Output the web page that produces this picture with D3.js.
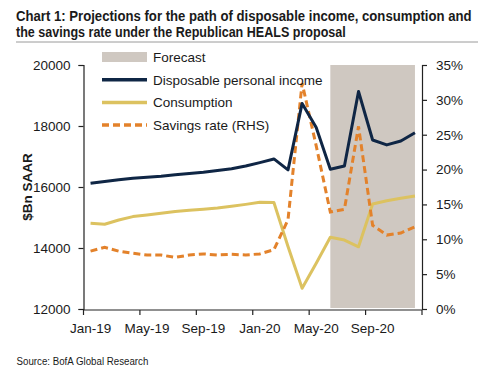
<!DOCTYPE html>
<html>
<head>
<meta charset="utf-8">
<script src="https://cdn.jsdelivr.net/npm/d3@7"></script>
<style>
  body{ margin:0; background:#fff; }
  svg text{ font-family:"Liberation Sans", Arial, sans-serif; fill:#1a1a1a; }
</style>
</head>
<body>
<svg id="chart" width="500" height="375"></svg>
<script>
// categories (monthly, Jan-19 .. Dec-20)
const months = ["Jan-19","Feb-19","Mar-19","Apr-19","May-19","Jun-19","Jul-19","Aug-19","Sep-19","Oct-19","Nov-19","Dec-19",
                "Jan-20","Feb-20","Mar-20","Apr-20","May-20","Jun-20","Jul-20","Aug-20","Sep-20","Oct-20","Nov-20","Dec-20"];
const tickMonths = ["Jan-19","May-19","Sep-19","Jan-20","May-20","Sep-20"];
// $Bn SAAR
const disposableIncome = [16120,16180,16240,16290,16320,16350,16400,16440,16480,16540,16600,16690,
                          16800,16920,16560,18740,17950,16580,16690,19130,17540,17380,17510,17780];
const consumption = [14810,14780,14920,15030,15080,15140,15200,15240,15270,15310,15370,15430,
                     15500,15490,14050,12680,13500,14350,14260,14040,15440,15550,15630,15705];
// % (RHS)
const savingsRate = [8.3,8.85,8.3,8.0,7.75,7.75,7.4,7.75,7.9,7.75,7.85,7.75,
                     7.9,8.5,12.8,32.4,23.4,13.9,14.3,26.2,12.0,10.6,10.9,11.8];
const forecastMonths = ["Jun-20","Jul-20","Aug-20","Sep-20","Oct-20","Nov-20","Dec-20"];
const leftTicks = [12000,14000,16000,18000,20000];
const rightTicks = [0,5,10,15,20,25,30,35];

const svg = d3.select("#chart");
const m = { left:83.5, right:422, top:65, bottom:309 };
const navy = "#0f2645", gold = "#dcc260", orange = "#e3822b", grey = "#cfc8c1";

const x = d3.scaleBand().domain(months).range([m.left, m.right]).paddingInner(0).paddingOuter(0);
const cx = d => x(d) + x.bandwidth()/2;
const yL = d3.scaleLinear().domain([12000,20000]).range([m.bottom, m.top]);
const yR = d3.scaleLinear().domain([0,35]).range([m.bottom, m.top]);

// squeeze a text horizontally to a target width (condensed look)
function fitText(sel, x0, width){
  const w = sel.node().getComputedTextLength();
  const s = Math.min(1, width / w);
  sel.attr("x", 0).attr("transform", `translate(${x0},0) scale(${s},1)`);
}

// title
const t1 = svg.append("text").attr("y",21).attr("font-size",15.5).attr("font-weight","bold")
  .text("Chart 1: Projections for the path of disposable income, consumption and");
fitText(t1, 16, 456);
const t2 = svg.append("text").attr("y",37.5).attr("font-size",15.5).attr("font-weight","bold")
  .text("the savings rate under the Republican HEALS proposal");
fitText(t2, 16, 330);
svg.append("line").attr("x1",16).attr("x2",478).attr("y1",42).attr("y2",42)
  .attr("stroke","#9a9a9a").attr("stroke-width",1);

// forecast shading
svg.append("rect")
  .attr("x", cx(forecastMonths[0]))
  .attr("width", cx(forecastMonths[forecastMonths.length-1]) - cx(forecastMonths[0]))
  .attr("y", yR(35)).attr("height", yR(0) - yR(35) - 1)
  .attr("fill", grey);

// lines
const lineL = d3.line().x((d,i)=> cx(months[i])).y(d=> yL(d));
const lineR = d3.line().x((d,i)=> cx(months[i])).y(d=> yR(d));
svg.append("path").datum(consumption).attr("d",lineL).attr("fill","none")
  .attr("stroke",gold).attr("stroke-width",3).attr("stroke-linejoin","round");
svg.append("path").datum(savingsRate).attr("d",lineR).attr("fill","none")
  .attr("stroke",orange).attr("stroke-width",3).attr("stroke-dasharray","7,4");
svg.append("path").datum(disposableIncome).attr("d",lineL).attr("fill","none")
  .attr("stroke",navy).attr("stroke-width",3).attr("stroke-linejoin","round");

// axes
const fontSize = 13.5;
const axL = svg.append("g").attr("transform",`translate(${m.left},0)`)
  .call(d3.axisLeft(yL).tickValues(leftTicks).tickFormat(d3.format("d")).tickSize(5).tickPadding(8));
const axR = svg.append("g").attr("transform",`translate(${m.right},0)`)
  .call(d3.axisRight(yR).tickValues(rightTicks).tickFormat(d=> d+"%").tickSize(5).tickPadding(9));
[axL, axR].forEach(a=>{
  a.selectAll("path,line").attr("stroke","#222").attr("stroke-width",1.2);
  a.selectAll("text").attr("font-size",fontSize).attr("font-family",null).attr("fill","#1a1a1a");
});

// x axis: ticks at category boundaries, labels at category centres
const axB = svg.append("g");
axB.append("line").attr("x1",m.left).attr("x2",m.right).attr("y1",m.bottom+1).attr("y2",m.bottom+1)
  .attr("stroke","#222").attr("stroke-width",1.2);
axB.selectAll("line.tick").data(tickMonths).enter().append("line").attr("class","tick")
  .attr("x1",d=> x(d)).attr("x2",d=> x(d)).attr("y1",m.bottom+1).attr("y2",m.bottom+6)
  .attr("stroke","#222").attr("stroke-width",1.2);
axB.append("line").attr("x1",m.right).attr("x2",m.right).attr("y1",m.bottom+1).attr("y2",m.bottom+6)
  .attr("stroke","#222").attr("stroke-width",1.2);
axB.selectAll("text").data(tickMonths).enter().append("text")
  .attr("x",d=> cx(d)).attr("y",333).attr("text-anchor","middle").attr("font-size",fontSize)
  .text(d=> d);

// y title
svg.append("text").attr("transform","translate(32,187) rotate(-90)")
  .attr("text-anchor","middle").attr("font-size",13.5).attr("font-weight","bold").text("$Bn SAAR");

// legend
const legend = [
  { label:"Forecast", type:"rect", color:grey },
  { label:"Disposable personal income", type:"line", color:navy },
  { label:"Consumption", type:"line", color:gold },
  { label:"Savings rate (RHS)", type:"dash", color:orange }
];
const lg = svg.append("g").selectAll("g").data(legend).enter().append("g")
  .attr("transform",(d,i)=> `translate(102,${57 + i*22.7})`);
lg.filter(d=> d.type==="rect").append("rect").attr("x",0).attr("y",-5).attr("width",45).attr("height",10).attr("fill",d=> d.color);
lg.filter(d=> d.type!=="rect").append("line").attr("x1",0).attr("x2",45).attr("y1",0).attr("y2",0)
  .attr("stroke",d=> d.color).attr("stroke-width",3.5)
  .attr("stroke-dasharray",d=> d.type==="dash" ? "7,4" : null);
lg.append("text").attr("x",51).attr("y",5).attr("font-size",fontSize).text(d=> d.label);

// source
const src = svg.append("text").attr("y",365).attr("font-size",11.5).attr("fill","#444")
  .text("Source: BofA Global Research");
fitText(src, 16.5, 132);
</script>
</body>
</html>
